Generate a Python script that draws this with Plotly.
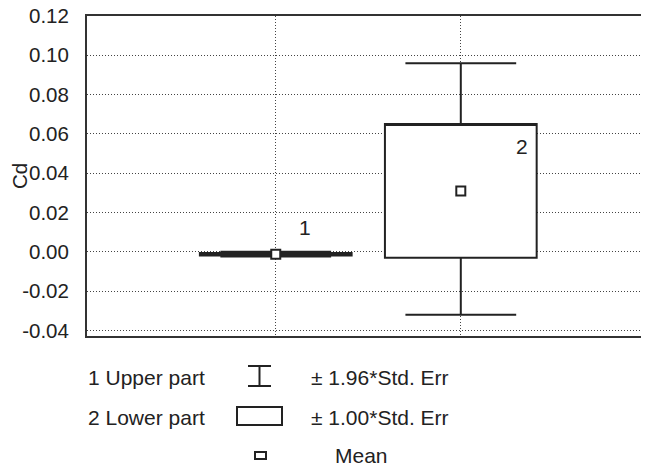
import plotly.graph_objects as go

# ---- data ----
groups = [1, 2]
group_labels = ["1 Upper part", "2 Lower part"]
means = [-0.0012, 0.031]
box_low = [-0.0018, -0.003]      # mean - 1.00*SE
box_high = [-0.0006, 0.065]      # mean + 1.00*SE
whisk_low = [-0.0024, -0.032]    # mean - 1.96*SE
whisk_high = [0.0000, 0.096]     # mean + 1.96*SE
ytick_vals = [-0.04, -0.02, 0.00, 0.02, 0.04, 0.06, 0.08, 0.10, 0.12]
ytick_text = ["-0.04", "-0.02", "0.00", "0.02", "0.04", "0.06", "0.08", "0.10", "0.12"]
legend_texts = ["± 1.96*Std. Err", "± 1.00*Std. Err", "Mean"]

FONT = "Liberation Sans, Arial, sans-serif"
INK = "#222222"

# page body has an 8px default margin; compensate so the plot lands
# where the reference has it in the 649x472 window
OFF = 8
W, H = 649 - OFF, 472 - OFF
L, R, T, B = 87 - OFF, 5, 16 - OFF, 136
PW, PH = W - L - R, H - T - B

def px(x):  # page pixel -> paper x
    return (x - OFF - L) / PW

def py(y):  # page pixel -> paper y
    return (H - B - (y - OFF)) / PH

fig = go.Figure()

for i, g in enumerate(groups):
    fig.add_trace(go.Box(
        x=[g], q1=[box_low[i]], median=[box_high[i]], q3=[box_high[i]],
        lowerfence=[whisk_low[i]], upperfence=[whisk_high[i]],
        width=0.82, whiskerwidth=0.73,
        fillcolor="white", line=dict(color=INK, width=2),
        boxpoints=False, showlegend=False, hoverinfo="skip",
    ))

fig.add_trace(go.Scatter(
    x=groups, y=means, mode="markers",
    marker=dict(symbol="square", size=9, color="white",
                line=dict(color=INK, width=2)),
    showlegend=False, hoverinfo="skip",
))

# group number labels
fig.add_annotation(x=1.157, y=0.0122, text="1", showarrow=False,
                   font=dict(family=FONT, size=21, color=INK))
fig.add_annotation(x=2.33, y=0.0534, text="2", showarrow=False,
                   font=dict(family=FONT, size=21, color=INK))

# custom legend
rows_y = [377, 417, 455]
for i, t in enumerate(group_labels):
    fig.add_annotation(xref="paper", yref="paper", x=px(86), y=py(rows_y[i]),
                       text=t, showarrow=False, xanchor="left", yanchor="middle",
                       font=dict(family=FONT, size=21, color=INK))
for i, t in enumerate(legend_texts):
    xl = 333 if t == "Mean" else 309
    fig.add_annotation(xref="paper", yref="paper", x=px(xl), y=py(rows_y[i]),
                       text=t, showarrow=False, xanchor="left", yanchor="middle",
                       font=dict(family=FONT, size=21, color=INK))

lw = dict(color=INK, width=2)
# I-beam symbol
fig.add_shape(type="line", xref="paper", yref="paper", x0=px(248), x1=px(271), y0=py(366), y1=py(366), line=lw)
fig.add_shape(type="line", xref="paper", yref="paper", x0=px(248), x1=px(271), y0=py(386), y1=py(386), line=lw)
fig.add_shape(type="line", xref="paper", yref="paper", x0=px(259.5), x1=px(259.5), y0=py(366), y1=py(386), line=lw)
# box symbol
fig.add_shape(type="rect", xref="paper", yref="paper", x0=px(237), x1=px(282), y0=py(407), y1=py(425), line=lw)
# mean symbol
fig.add_shape(type="rect", xref="paper", yref="paper", x0=px(255), x1=px(266), y0=py(452), y1=py(459), line=lw)

GRID = dict(showgrid=True, gridcolor="#444444", griddash="1px,2px", gridwidth=1)

fig.update_layout(
    width=W, height=H,
    margin=dict(l=L, r=R, t=T, b=B, autoexpand=False),
    paper_bgcolor="white", plot_bgcolor="white",
    font=dict(family=FONT, size=20, color=INK),
    showlegend=False,
)
fig.update_xaxes(
    range=[-0.02, 2.99], tickvals=groups, showticklabels=False, ticks="",
    automargin=False, zeroline=False, showline=True, mirror=True,
    linecolor="#333333", linewidth=2, **GRID,
)
fig.update_yaxes(
    range=[-0.0428, 0.12], tickvals=ytick_vals, ticktext=ytick_text,
    ticks="", ticklabelstandoff=12, automargin=False, ticklabeloverflow="allow",
    tickfont=dict(family=FONT, size=20.5, color=INK),
    zeroline=False, showline=True, mirror=True,
    linecolor="#333333", linewidth=2, **GRID,
    title=dict(text="Cd", standoff=0, font=dict(family=FONT, size=20.5, color=INK)),
)

fig.write_html("out.html")
